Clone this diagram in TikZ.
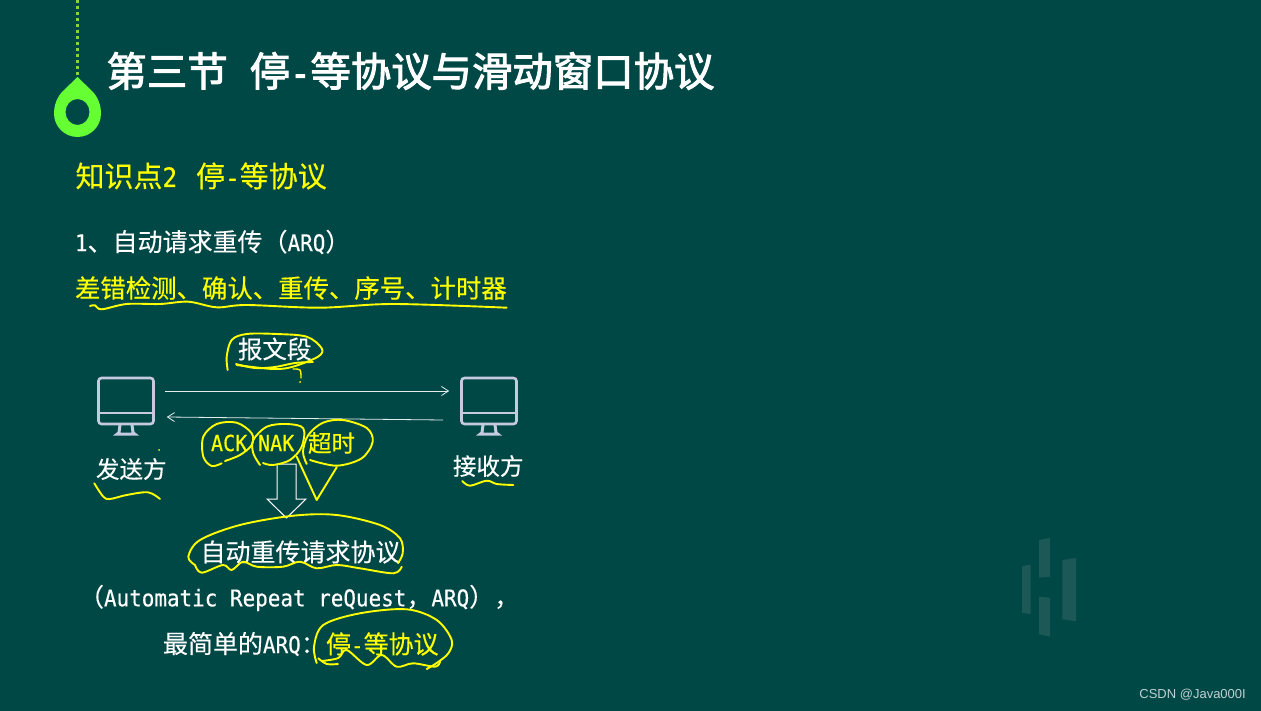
\documentclass[tikz,border=0pt]{standalone}
\usepackage{fontspec}
\usetikzlibrary{arrows.meta}
\setmainfont{Noto Sans CJK SC}[FakeBold=0.25]
\newfontfamily\titlefont{Noto Sans CJK SC}[FakeBold=2.4]
\newfontfamily\hwfont{DejaVu Sans Mono}[Scale=0.92,FakeStretch=0.91,FakeBold=0.35]
\newfontfamily\hwtitle{DejaVu Sans Mono}[Scale=0.92,FakeStretch=0.91,FakeBold=2.4]
\newfontfamily\wmfont{Liberation Sans}
\newcommand{\hw}[1]{{\hwfont #1}}
\newcommand{\fsz}[1]{\fontsize{#1}{#1}\selectfont}
\definecolor{bgc}{HTML}{004846}
\definecolor{pen}{HTML}{FFFF00}
\definecolor{pinc}{HTML}{66FF33}
\definecolor{dotc}{HTML}{8FD03C}
\definecolor{monc}{HTML}{C5CAE0}
\definecolor{wmc}{HTML}{1C5855}
\tikzset{
  x=1pt,y=-1pt,
  txt/.style={anchor=west,inner sep=0pt,outer sep=0pt,text=white},
  ytxt/.style={txt,text=pen},
  handw/.style={draw=pen,line width=1.9pt,line cap=round,line join=round,smooth,tension=0.55},
  screen/.style={draw=monc,line width=2.6pt,rounded corners=3pt,minimum width=55pt,minimum height=46pt,inner sep=0pt},
  monpart/.style={draw=monc,line width=2.6pt},
  link/.style={draw=white!90!bgc,line width=0.8pt,-{Straight Barb[length=7pt,width=9pt,line width=0.8pt]}},
  wmbar/.style={fill=wmc,draw=none}
}
\begin{document}
\begin{tikzpicture}
\useasboundingbox (0,0) rectangle (1261,711);
\fill[bgc] (0,0) rectangle (1261,711);
% pin
\draw[dotc,line width=2.5pt,dash pattern=on 3pt off 3pt] (77.5,0) -- (77.5,76);
\fill[pinc,even odd rule] (77.5,77) -- (92,91) .. controls (98,97) and (101,105) .. (101,113.5)
  .. controls (101,127) and (90,137) .. (77.5,137)
  .. controls (65,137) and (54,127) .. (54,113.5)
  .. controls (54,105) and (57,97) .. (63,91) -- cycle
  (77.5,112) ellipse [x radius=12,y radius=13];
% watermark
\fill[wmbar] (1022,566) -- (1030.7,564.7) -- (1030.7,614) -- (1022,612.7) -- cycle;
\fill[wmbar] (1039,540) -- (1050,538) -- (1050,576.7) -- (1039,577.7) -- cycle;
\fill[wmbar] (1039,596.7) -- (1050,597.7) -- (1050,636.7) -- (1039,634.3) -- cycle;
\fill[wmbar] (1062.3,560) -- (1076,558) -- (1076,621.3) -- (1062.3,619.3) -- cycle;
% texts
\node[txt,font=\fsz{40.4}\titlefont] (title) at (106.5,71) {第三节\hspace{22pt}停{\hwtitle -}等协议与滑动窗口协议};
\node[ytxt,font=\fsz{29}] (kp) at (75.5,176) {知识点\hw{2}\hspace{19pt}停\hw{-}等协议};
\node[txt,font=\fsz{25}] (arq1) at (75,242) {\hw{1}、自动请求重传（\hw{ARQ}）};
\node[ytxt,font=\fsz{25.4}] (items) at (75,288) {差错检测、确认、重传、序号、计时器};
\node[txt,font=\fsz{24.5}] (seg) at (238,349) {报文段};
\node[txt,font=\fsz{23.5}] (sendl) at (96,469) {发送方};
\node[txt,font=\fsz{23.5}] (recvl) at (453,466) {接收方};
\node[ytxt,font=\fsz{24}] (ack) at (211,443) {\hw{ACK}};
\node[ytxt,font=\fsz{24}] (nak) at (258,443) {\hw{NAK}};
\node[ytxt,font=\fsz{23.5}] (timeout) at (308,443) {超时};
\node[txt,font=\fsz{25}] (full) at (200.5,552) {自动重传请求协议};
\node[txt,font=\fsz{25}] (eng) at (79,598) {（\hw{Automatic Repeat reQuest}，\hw{ARQ}），};
\node[txt,font=\fsz{25}] (simple) at (163,644) {最简单的\hw{ARQ}：};
\node[ytxt,font=\fsz{25}] (sw) at (326,644) {停\hw{-}等协议};
\node[anchor=east,inner sep=0pt,text=white!75!bgc,font=\wmfont\fsz{13}] (csdn) at (1246,695) {CSDN @Java000I};
% monitors
\node[screen] (sender) at (126,401) {};
\node[screen] (receiver) at (489,401) {};
\draw[monpart] (sender.west |- 0,413) -- (sender.east |- 0,413);
\draw[monpart] (receiver.west |- 0,413) -- (receiver.east |- 0,413);
\fill[monc] (118.5,425) -- (121.5,425) -- (120.5,432.5) -- (131.5,432.5) -- (130.5,425) -- (133.5,425) -- (134.5,432) -- (139,435.5) -- (113,435.5) -- (117.5,432) -- cycle;
\fill[monc] (481.5,425) -- (484.5,425) -- (483.5,432.5) -- (494.5,432.5) -- (493.5,425) -- (496.5,425) -- (497.5,432) -- (502,435.5) -- (476,435.5) -- (480.5,432) -- cycle;
% arrows
\draw[link] ([shift={(10,-10)}]sender.east) -- ([shift={(-11,-10)}]receiver.west);
\draw[link] ([shift={(-17,19)}]receiver.west) -- ([shift={(12,16)}]sender.east);
% hollow arrow
\draw[white,line width=1pt,line join=miter] (277,464) -- (296,464) -- (296,499) -- (306,499) -- (286.5,518) -- (267,499) -- (277,499) -- cycle;
% handwriting
\draw[handw] plot coordinates {(227.7,370) (226.7,356.7) (231.7,340) (246.7,334) (276.7,334) (306.7,336.7) (321.7,348.3) (318,356.7) (293,366.7) (273,369) (236.7,365)};
\draw[handw] plot coordinates {(236,364) (255,368) (275,367) (295,363) (313,362)};
\draw[handw,line width=1.4pt] plot coordinates {(293,369) (300,370) (301,378)};
\fill[pen] (300,382) circle (1);
\draw[handw] plot coordinates {(221.7,463.3) (211.7,466) (203.3,456.7) (203.3,436.7) (216.7,424) (236.7,422.7) (251.7,433.3) (251.7,445) (240,455) (225,461)};
\draw[handw] plot coordinates {(260,465) (253.3,453.3) (253.3,440) (266.7,426.7) (286.7,424) (303.3,428.3) (301.7,446.7) (290,460) (273,465) (263,463)};
\draw[handw] plot coordinates {(306.7,464) (303,451.7) (308.3,435) (323,422.7) (343,420) (366.7,428) (372.7,441.7) (361.7,458.3) (336.7,465.7) (310,460)};
\draw[draw=pen,line width=1.9pt,line cap=round,line join=round] (296.7,456.7) -- (316.7,500) -- (336.7,467.3);
\draw[handw] plot coordinates {(94.3,483.3) (103.3,496.7) (110,499) (126.7,495) (148,492.3) (160,499)};
\fill[pen] (159,450) circle (1);
\draw[handw] plot coordinates {(462.3,481) (470,485.7) (486.7,480.7) (496.7,484) (513.3,485)};
\draw[handw] plot coordinates {(195,565) (188.3,556.7) (200,540) (240,525) (293.3,515.7) (336.7,515) (380,525) (400,538.3) (402.7,553.3) (398,563)};
\draw[handw] plot coordinates {(195,565) (201.7,572.7) (223,565) (231.7,570) (243,561.7) (256.7,566.7) (283,566.7) (300,561.7) (316.7,568.3) (336.7,565) (360,568.3) (393.3,573.3) (401.7,566.7)};
\draw[handw] plot coordinates {(316.7,663) (314,646.7) (323.3,625) (360,613.3) (406.7,609.3) (436.7,620) (451.7,640) (448.3,653.3) (436.7,663) (426.7,669)};
\draw[handw] plot coordinates {(318.3,658.3) (326.7,664) (338,664)};
\draw[handw] plot coordinates {(322,661) (338.3,658) (346.7,650) (366.7,665) (381.7,655) (396.7,666.7) (413,663.3) (435,666.7) (440,661.7)};
\draw[handw] plot coordinates {(90,306) (95,305.3) (101.7,309.3) (126.7,304) (160,304) (188.3,301.7) (216.7,307.3) (246.7,305) (320,307.7) (393.3,304) (506.7,307.7)};
\end{tikzpicture}
\end{document}
